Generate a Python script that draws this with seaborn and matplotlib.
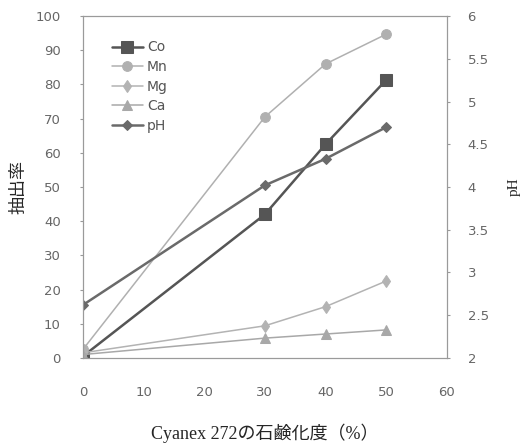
import pandas as pd
import matplotlib
matplotlib.use("Agg")
import matplotlib.pyplot as plt
import seaborn as sns

# saponification degree of Cyanex 272 (%)
saponification = [0, 30, 40, 50]

co = [0.5, 42.0, 62.5, 81.3]
mn = [2.5, 70.5, 86.0, 94.7]
mg = [1.5, 9.4, 15.0, 22.5]
ca = [1.0, 5.8, 7.0, 8.2]
ph = [2.62, 4.02, 4.33, 4.70]

x_ticks = [0, 10, 20, 30, 40, 50, 60]
left_ticks = [0, 10, 20, 30, 40, 50, 60, 70, 80, 90, 100]
right_ticks = [2, 2.5, 3, 3.5, 4, 4.5, 5, 5.5, 6]
right_labels = ["2", "2.5", "3", "3.5", "4", "4.5", "5", "5.5", "6"]

sns.set_style("white")
plt.rcParams["font.family"] = ["DejaVu Sans", "Noto Sans CJK JP"]

metals = pd.DataFrame({
    "sap": saponification * 4,
    "value": co + mn + mg + ca,
    "metal": ["Co"] * 4 + ["Mn"] * 4 + ["Mg"] * 4 + ["Ca"] * 4,
})
ph_df = pd.DataFrame({"sap": saponification, "pH": ph})

styles = {
    "Co": dict(color="#555555", marker="s", markersize=8, linewidth=1.8),
    "Mn": dict(color="#b0b0b0", marker="o", markersize=7, linewidth=1.1),
    "Mg": dict(color="#b3b3b3", marker="d", markersize=6, linewidth=1.1),
    "Ca": dict(color="#a8a8a8", marker="^", markersize=7, linewidth=1.1),
    "pH": dict(color="#6a6a6a", marker="D", markersize=5, linewidth=1.8),
}

fig = plt.figure(figsize=(5.25, 4.48), dpi=100)
ax = fig.add_axes([0.158, 0.201, 0.693, 0.763])
ax2 = ax.twinx()

for name in ["Co", "Mn", "Mg", "Ca"]:
    st = styles[name]
    sns.lineplot(data=metals[metals["metal"] == name], x="sap", y="value",
                 color=st["color"], marker=st["marker"], markersize=st["markersize"],
                 linewidth=st["linewidth"], markeredgecolor=st["color"],
                 label=name, ax=ax, legend=False)

st = styles["pH"]
sns.lineplot(data=ph_df, x="sap", y="pH", color=st["color"], marker=st["marker"],
             markersize=st["markersize"], linewidth=st["linewidth"],
             markeredgecolor=st["color"], label="pH", ax=ax2, legend=False)

ax.set_xlim(0, 60)
ax.set_ylim(0, 100)
ax2.set_ylim(2, 6)
ax.set_xticks(x_ticks)
ax.set_yticks(left_ticks)
ax2.set_yticks(right_ticks)
ax2.set_yticklabels(right_labels)

tick_col = "#666666"
for a in (ax, ax2):
    for sp in a.spines.values():
        sp.set_color("#9a9a9a")
        sp.set_linewidth(0.8)
        sp.set_linestyle((0, (2, 1)))
ax.tick_params(axis="x", direction="in", length=3, color="#999999",
               labelsize=9.5, labelcolor=tick_col, pad=20)
ax.tick_params(axis="y", direction="out", length=2, color="#999999",
               labelsize=9.5, labelcolor=tick_col, pad=14)
ax2.tick_params(axis="y", direction="out", length=2, color="#999999",
                labelsize=9.5, labelcolor=tick_col, pad=13)

ax.set_xlabel("Cyanex 272の石鹸化度（%）", fontsize=13,
              family=["Liberation Serif", "Noto Sans CJK JP"], labelpad=18)
ax.set_ylabel("抽出率", fontsize=13, family=["Noto Sans CJK JP"], labelpad=6)
ax2.set_ylabel("pH", fontsize=11, family=["Liberation Serif"], labelpad=14)

handles = ax.get_lines() + ax2.get_lines()
ax.legend(handles=handles, labels=["Co", "Mn", "Mg", "Ca", "pH"],
          loc="upper left", bbox_to_anchor=(0.065, 0.945), frameon=False,
          fontsize=10, labelcolor="#555555", handlelength=2.2,
          handletextpad=0.3, labelspacing=0.4, borderaxespad=0)

fig.savefig("out.png", dpi=100)
